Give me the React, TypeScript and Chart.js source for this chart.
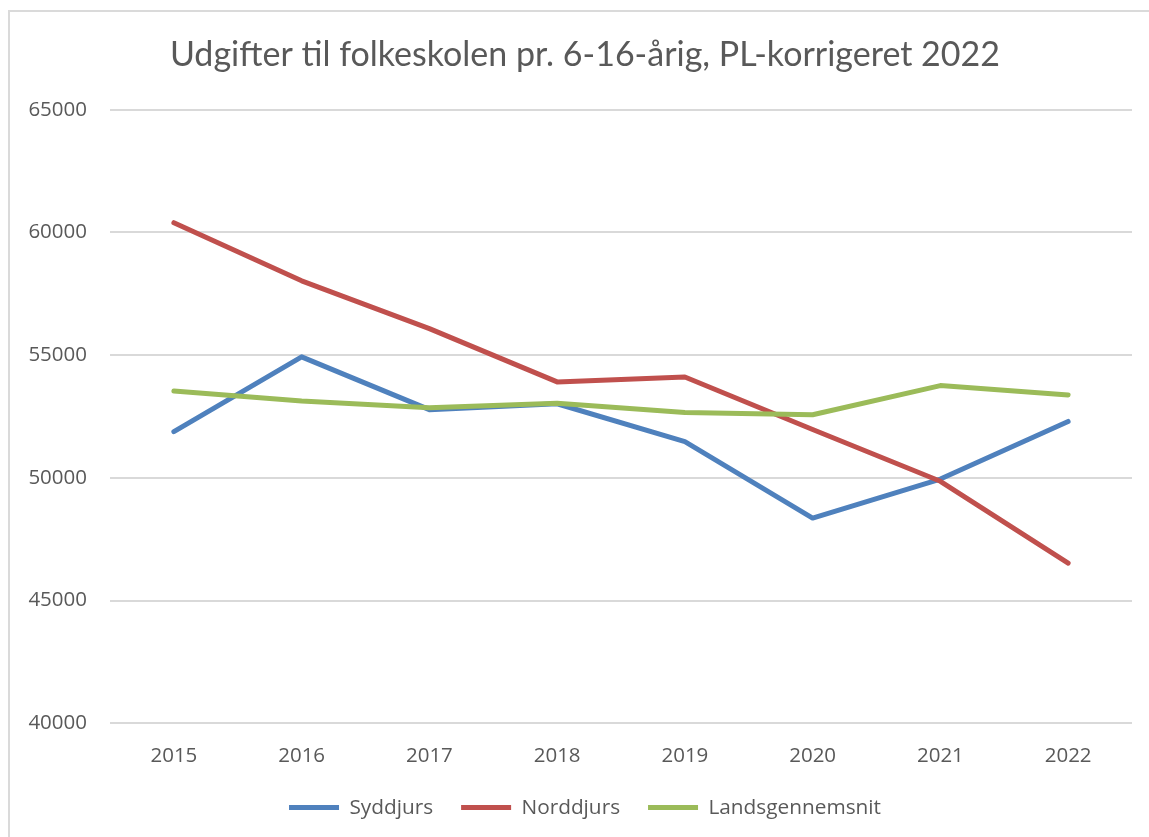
import { useEffect, useRef } from 'react';
import { Chart, registerables } from 'chart.js';

Chart.register(...registerables);

const chartTitle = 'Udgifter til folkeskolen pr. 6-16-årig, PL-korrigeret 2022';
const years = ['2015', '2016', '2017', '2018', '2019', '2020', '2021', '2022'];
const seriesNames = ['Syddjurs', 'Norddjurs', 'Landsgennemsnit'];
const syddjurs = [51880, 54930, 52780, 53020, 51480, 48360, 49950, 52300];
const norddjurs = [60400, 58030, 56080, 53910, 54110, 51970, 49860, 46520];
const landsgennemsnit = [53540, 53130, 52860, 53040, 52660, 52570, 53760, 53380];
const yMin = 40000;
const yMax = 65000;
const yStep = 5000;

const seriesColors = ['#4F81BD', '#C0504D', '#9BBB59'];
const textColor = '#595959';

export default function App() {
  const ref = useRef<HTMLCanvasElement>(null);

  useEffect(() => {
    const values = [syddjurs, norddjurs, landsgennemsnit];
    const chart = new Chart(ref.current!, {
      type: 'line',
      data: {
        labels: years,
        datasets: values.map((v, i) => ({
          label: seriesNames[i],
          data: v,
          borderColor: seriesColors[i],
          backgroundColor: seriesColors[i],
          borderWidth: 5,
          pointRadius: 0,
          pointHoverRadius: 0,
          pointStyle: 'line',
          tension: 0,
          fill: false,
          borderCapStyle: 'round',
          borderJoinStyle: 'round',
          order: 3 - i,
        })),
      },
      options: {
        responsive: false,
        animation: false,
        devicePixelRatio: 1,
        layout: { padding: { left: 0, right: 0, top: 0, bottom: 22 } },
        plugins: {
          title: {
            display: true,
            text: chartTitle,
            color: textColor,
            font: { family: 'Lato', size: 34, weight: 'normal', lineHeight: 1.2 },
            padding: { top: 23, bottom: 34 },
          },
          legend: {
            position: 'bottom',
            labels: {
              usePointStyle: true,
              pointStyleWidth: 50,
              padding: 28,
              color: textColor,
              font: { family: 'Open Sans', size: 20.8 },
              sort: (a: any, b: any) => a.datasetIndex - b.datasetIndex,
            },
          },
          tooltip: { enabled: false },
        },
        scales: {
          x: {
            offset: true,
            grid: { display: false },
            border: { display: false },
            ticks: {
              color: textColor,
              font: { family: 'Open Sans', size: 20.5 },
              padding: 13,
              maxRotation: 0,
            },
            afterFit: (s: any) => {
              s.height = 46;
            },
          },
          y: {
            min: yMin,
            max: yMax,
            ticks: {
              stepSize: yStep,
              padding: 23,
              color: textColor,
              font: { family: 'Open Sans', size: 20.5 },
              callback: (v: any) => String(v),
            },
            grid: { color: '#d9d9d9', lineWidth: 2, drawTicks: false },
            border: { display: false },
            afterFit: (s: any) => {
              s.width = 100;
            },
          },
          y2: {
            position: 'right',
            display: true,
            grid: { display: false },
            border: { display: false },
            ticks: { display: false },
            afterFit: (s: any) => {
              s.width = 28;
            },
          },
        },
      } as any,
    });
    return () => chart.destroy();
  }, []);

  return (
    <div
      style={{
        position: 'fixed',
        left: 0,
        top: 0,
        width: 1149,
        height: 837,
        overflow: 'hidden',
        background: '#ffffff',
      }}
    >
      <div
        style={{
          position: 'absolute',
          left: 8,
          top: 10,
          width: 1150,
          height: 838,
          border: '2px solid #dadada',
        }}
      >
        <canvas ref={ref} width={1150} height={838} style={{ display: 'block', width: 1150, height: 838 }} />
      </div>
    </div>
  );
}
